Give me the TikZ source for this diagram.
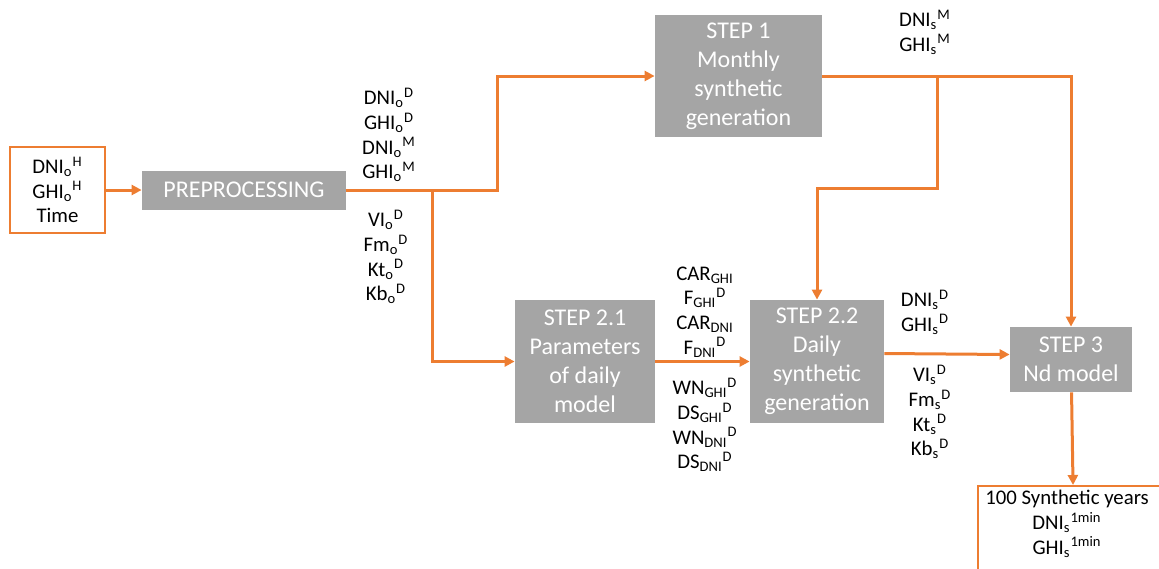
\documentclass[tikz,border=0pt]{standalone}
\usepackage{fontspec}
\setmainfont{Carlito}
\usetikzlibrary{arrows.meta}

\definecolor{flow}{HTML}{ED7D31}
\definecolor{stepgray}{HTML}{A5A5A5}
% variable with sub- and superscript
\newcommand{\sv}[3]{#1\textsubscript{#2}\textsuperscript{#3}}

\begin{document}
\begin{tikzpicture}[x=0.5pt, y=-0.5pt,
  stepbox/.style={fill=stepgray, text=white, align=center, inner sep=0pt,
    font=\fontsize{12}{14.5}\selectfont},
  iobox/.style={draw=flow, line width=1pt, fill=white, inner sep=0pt},
  vars/.style={align=center, inner sep=0pt, font=\fontsize{10.4}{12.3}\selectfont},
  flowline/.style={draw=flow, line width=1.5pt},
  flowarrow/.style={flowline, -{Triangle[length=5pt, width=5pt]}}]
  \useasboundingbox (0,0) rectangle (1159,568);

  % input / output boxes
  \node[iobox, vars, minimum width=47.5pt, minimum height=43pt] (in) at (57.5,190)
       {\sv{DNI}{o}{H}\\ \sv{GHI}{o}{H}\\ Time};
  \node[iobox, minimum width=96pt, minimum height=60pt, anchor=north] (out) at (1074,485) {};
  \node[vars, anchor=north] (outtxt) at (1067,490)
       {100 Synthetic years\\ \sv{DNI}{s}{1min}\\ \sv{GHI}{s}{1min}};

  % steps
  \node[stepbox, minimum width=102pt, minimum height=19.5pt] (pre) at (244,190) {PREPROCESSING};
  \node[stepbox, minimum width=83.5pt, minimum height=61pt] (s1) at (738.5,76)
       {STEP 1\\ Monthly\\ synthetic\\ generation};
  \node[stepbox, minimum width=70pt, minimum height=61.5pt] (s21) at (585,361.5)
       {STEP 2.1\\ Parameters\\ of daily\\ model};
  \node[stepbox, minimum width=67pt, minimum height=61.5pt] (s22) at (817,361.5)
       {STEP 2.2\\ Daily\\ synthetic\\ generation};
  \node[stepbox, minimum width=61pt, minimum height=32.5pt] (s3) at (1071,359.5)
       {STEP 3\\ Nd model};

  % variables
  \node[vars] (obsd) at (389,135)
       {\sv{DNI}{o}{D}\\ \sv{GHI}{o}{D}\\ \sv{DNI}{o}{M}\\ \sv{GHI}{o}{M}};
  \node[vars] (obsk) at (386,257)
       {\sv{VI}{o}{D}\\ \sv{Fm}{o}{D}\\ \sv{Kt}{o}{D}\\ \sv{Kb}{o}{D}};
  \node[vars] (synm) at (925,32) {\sv{DNI}{s}{M}\\ \sv{GHI}{s}{M}};
  \node[vars] (para) at (705,312)
       {CAR\textsubscript{GHI}\\ \sv{F}{GHI}{D}\\ CAR\textsubscript{DNI}\\ \sv{F}{DNI}{D}};
  \node[vars] (parb) at (705,425)
       {\sv{WN}{GHI}{D}\\ \sv{DS}{GHI}{D}\\ \sv{WN}{DNI}{D}\\ \sv{DS}{DNI}{D}};
  \node[vars] (synd) at (925,312) {\sv{DNI}{s}{D}\\ \sv{GHI}{s}{D}};
  \node[vars] (synk) at (930,412)
       {\sv{VI}{s}{D}\\ \sv{Fm}{s}{D}\\ \sv{Kt}{s}{D}\\ \sv{Kb}{s}{D}};

  % bends and splits
  \coordinate (sp1) at (432,190);
  \coordinate (b1) at (497,190);
  \coordinate (sp2) at (937,76);
  \coordinate (b2) at (937,188);

  % connectors
  \draw[flowarrow] (in) -- (pre);
  \draw[flowarrow] (pre.east) -- (b1) |- (s1.west);
  \draw[flowarrow] (sp1) |- (s21.west);
  \draw[flowarrow] (s1.east) -| (s3.north);
  \draw[flowarrow] (sp2) -- (b2) -| (s22.north);
  \draw[flowarrow] (s21) -- (s22);
  \draw[flowarrow] ([yshift=4pt]s22.east) -- ([yshift=2.5pt]s3.west);
  \draw[flowarrow] (s3) -- (out);
\end{tikzpicture}
\end{document}
